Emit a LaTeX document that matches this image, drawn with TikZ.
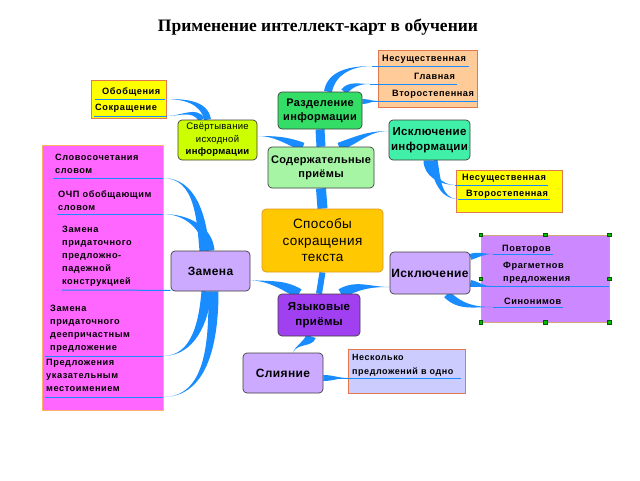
\documentclass[tikz,border=0pt]{standalone}
\usepackage{fontspec}
\setmainfont{Liberation Sans}
\newfontfamily\headfont{Liberation Serif}
\newfontfamily\leaffont[LetterSpace=6]{Liberation Sans}
\newfontfamily\topicfont[LetterSpace=3]{Liberation Sans}
\usetikzlibrary{calc}

\definecolor{twigblue}{RGB}{25,140,255}
\definecolor{cgold}{RGB}{255,200,0}
\definecolor{cgoldedge}{RGB}{225,150,40}
\definecolor{cpale}{RGB}{165,245,165}
\definecolor{cgreen}{RGB}{51,221,102}
\definecolor{cteal}{RGB}{64,240,168}
\definecolor{clime}{RGB}{204,255,0}
\definecolor{cpurple}{RGB}{160,64,240}
\definecolor{clav}{RGB}{204,170,255}
\definecolor{cyellow}{RGB}{255,255,0}
\definecolor{cpeach}{RGB}{255,204,153}
\definecolor{cmagenta}{RGB}{255,102,255}
\definecolor{cviolet}{RGB}{204,136,255}
\definecolor{cmist}{RGB}{204,204,255}
\definecolor{boxedge}{RGB}{225,120,80}

\pgfdeclarelayer{back}
\pgfdeclarelayer{mid}
\pgfsetlayers{back,mid,main}

\tikzset{
  topic/.style={draw=black!75, rounded corners=4pt, line width=0.7pt, align=center, inner sep=1pt,
    font=\topicfont\bfseries\fontsize{11}{14}\selectfont},
  leafbox/.style={draw=boxedge, line width=0.8pt, inner sep=0pt},
  leaf/.style={font=\leaffont\bfseries\fontsize{9.2}{13}\selectfont, inner sep=0pt, align=left, anchor=base west},
  uline/.style={draw=twigblue, line width=1pt},
  trunk/.style={draw=twigblue, line width=9pt},
  twig/.style={fill=twigblue},
  grip/.style={fill=green!75!black, draw=green!35!black, line width=0.4pt, minimum size=3.5pt, inner sep=0pt}
}

% tapered branch: anchor, shift, end, out, in, half width
\newcommand{\twig}[6]{\fill[twig] ($(#1)+(#2)+({#4+90}:#6pt)$) to[out=#4,in=#5] (#3) to[out=#5,in=#4] ($(#1)+(#2)+({#4-90}:#6pt)$) -- cycle;}

\begin{document}
\begin{tikzpicture}[x=1pt,y=1pt]
\useasboundingbox (0,0) rectangle (640,-480);

\node[font=\headfont\bfseries\fontsize{17.5}{20}\selectfont] (title) at (318,-27) {Применение интеллект-карт в обучении};

\begin{pgfonlayer}{back}
\fill[white] (0,0) rectangle (640,-480);
\node[leafbox, fill=cyellow, minimum width=75pt, minimum height=38pt] (genbox) at (128.5,-99) {};
\node[leafbox, fill=cpeach, minimum width=99pt, minimum height=57pt] (levbox) at (427.5,-78.5) {};
\node[leafbox, fill=cyellow, minimum width=106pt, minimum height=42pt] (minbox) at (509,-191) {};
\node[leafbox, draw=orange!60, fill=cmagenta, minimum width=121pt, minimum height=265pt] (replbox) at (102.5,-277.5) {};
\node[leafbox, draw=brown!70, line width=0.6pt, fill=cviolet, minimum width=128pt, minimum height=87pt] (dropbox) at (545,-278.5) {};
\node[leafbox, fill=cmist, minimum width=117pt, minimum height=44pt] (joinbox) at (406.5,-371) {};
\end{pgfonlayer}

\node[topic, fill=cgold, draw=cgoldedge, minimum width=121pt, minimum height=63pt,
  font=\topicfont\fontsize{13.5}{16.5}\selectfont] (core) at (322.5,-240.5) {Способы\\сокращения\\текста};
\node[topic, fill=cpale, minimum width=106pt, minimum height=41pt] (content) at (321,-167.5) {Содержательные\\приёмы};
\node[topic, fill=cgreen, minimum width=84pt, minimum height=37pt] (split) at (320,-110.5) {Разделение\\информации};
\node[topic, fill=cteal, minimum width=81pt, minimum height=40pt, font=\topicfont\bfseries\fontsize{11.5}{14.5}\selectfont] (excl) at (429.5,-140) {Исключение\\информации};
\node[topic, fill=clime, minimum width=79pt, minimum height=40pt, font=\topicfont\bfseries\fontsize{9.5}{12.5}\selectfont] (fold) at (217.5,-140) {{\mdseries Свёртывание}\\{\mdseries исходной}\\информации};
\node[topic, fill=cpurple, minimum width=82pt, minimum height=42pt, font=\topicfont\bfseries\fontsize{11.5}{15}\selectfont] (lang) at (319,-315) {Языковые\\приёмы};
\node[topic, fill=clav, minimum width=79pt, minimum height=40pt, font=\topicfont\bfseries\fontsize{12}{14}\selectfont] (subst) at (210.5,-271) {Замена};
\node[topic, fill=clav, minimum width=80pt, minimum height=42pt, font=\topicfont\bfseries\fontsize{12}{14}\selectfont] (cut) at (430,-273) {Исключение};
\node[topic, fill=clav, minimum width=80pt, minimum height=40pt, font=\topicfont\bfseries\fontsize{12}{14}\selectfont] (merge) at (283,-373) {Слияние};

\foreach \a in {north west,north,north east,west,east,south west,south,south east}
  \node[grip] (grip-\a) at (dropbox.\a) {};

\coordinate (g1) at (165,-99);
\coordinate (g2) at (167,-116);
\coordinate (l1) at (372,-66);
\coordinate (l2) at (370,-84);
\coordinate (l3) at (378,-101);
\coordinate (m1) at (455,-185);
\coordinate (m2) at (458,-199);
\coordinate (r1) at (163,-178);
\coordinate (r2) at (163,-214);
\coordinate (r4) at (163,-356);
\coordinate (r5) at (163,-397);
\coordinate (d1) at (493,-254);
\coordinate (d2) at (490,-286);
\coordinate (d3) at (493,-307);
\coordinate (j1) at (348,-378);

\begin{pgfonlayer}{mid}
\draw[uline] (95,-99) -- (g1);
\draw[uline] (94,-116) -- (g2);
\draw[uline] (l1) -- (469,-66);
\draw[uline] (l2) -- (457,-84);
\draw[uline] (365,-101) -- (477,-101);
\draw[uline] (m1) -- (548,-185);
\draw[uline] (m2) -- (550,-199);
\draw[uline] (53,-178) -- (r1);
\draw[uline] (57,-214) -- (r2);
\draw[uline] (62,-290) -- ([yshift=1pt]subst.south west);
\draw[uline] (45,-356) -- (r4);
\draw[uline] (45,-397) -- (r5);
\draw[uline] (d1) -- (553,-254);
\draw[uline] (470,-286) -- (609,-286);
\draw[uline] (d3) -- (563,-307);
\draw[uline] (327,-378) -- (461,-378);

\draw[trunk, line width=10pt] (core.north) -- (content.south);
\draw[trunk] (content.north) -- (split.south);
\draw[trunk, line width=6pt] (core.south) -- (lang.north);

\twig{fold.north}{-10,0}{g1}{100}{0}{3.5}
\twig{fold.north}{-16,0}{g2}{120}{0}{3}
\twig{content.north}{-18,0}{[yshift=4pt]fold.east}{160}{0}{4}
\twig{content.north}{18,0}{[yshift=9pt]excl.west}{20}{180}{4}
\twig{split.north}{8,0}{l1}{80}{180}{4}
\twig{split.north}{24,0}{l2}{50}{180}{3.5}
\twig{split.east}{0,9}{l3}{0}{180}{2.5}
\twig{excl.south}{-2,0}{m1}{-90}{180}{4}
\twig{excl.south}{4,0}{m2}{-80}{180}{4}
\twig{subst.north}{-6,0}{r1}{95}{0}{5}
\twig{subst.north}{-1,0}{r2}{95}{0}{5}
\twig{subst.south}{-4,0}{r4}{-95}{0}{5}
\twig{subst.south}{3,0}{r5}{-90}{0}{5}
\twig{lang.north}{-20,0}{[yshift=-9pt]subst.east}{150}{-5}{5}
\twig{lang.north}{22,0}{[yshift=-14pt]cut.west}{30}{180}{5}
\twig{lang.south}{-8,0}{[xshift=10pt]merge.north}{-110}{70}{5}
\twig{merge.east}{0,-5}{j1}{0}{180}{3}
\twig{cut.east}{0,16}{d1}{20}{180}{3}
\twig{cut.east}{0,-10}{d2}{-10}{180}{3}
\twig{cut.south}{17,0}{d3}{-45}{180}{4}
\end{pgfonlayer}

\node[leaf] (gen1) at (102,-94.5) {Обобщения};
\node[leaf] (gen2) at (95,-110.5) {Сокращение};
\node[leaf] (lev1) at (382,-61.5) {Несущественная};
\node[leaf] (lev2) at (414,-79.5) {Главная};
\node[leaf] (lev3) at (392,-96.5) {Второстепенная};
\node[leaf] (min1) at (462,-180.5) {Несущественная};
\node[leaf] (min2) at (466,-196.5) {Второстепенная};
\node[leaf] (rep1) at (55,-173.5) {Словосочетания\\словом};
\node[leaf] (rep2) at (58,-210.5) {ОЧП обобщающим\\словом};
\node[leaf] (rep3) at (62,-284) {Замена\\придаточного\\предложно-\\падежной\\конструкцией};
\node[leaf] (rep4) at (50,-350.5) {Замена\\придаточного\\деепричастным\\предложение};
\node[leaf] (rep5) at (46,-391.5) {Предложения\\указательным\\местоимением};
\node[leaf] (drop1) at (502,-251.5) {Повторов};
\node[leaf] (drop2) at (503,-281.5) {Фрагметнов\\предложения};
\node[leaf] (drop3) at (504,-304.5) {Синонимов};
\node[leaf, font=\leaffont\bfseries\fontsize{9}{14}\selectfont] (join1) at (352,-374.5) {Несколько\\предложений в одно};
\end{tikzpicture}
\end{document}
